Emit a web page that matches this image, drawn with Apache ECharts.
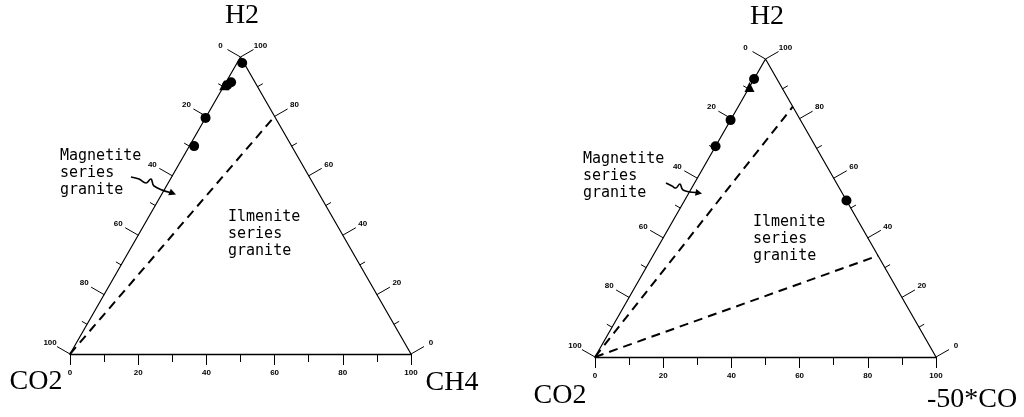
<!DOCTYPE html>
<html><head><meta charset="utf-8">
<script src="https://cdn.jsdelivr.net/npm/echarts@6/dist/echarts.min.js"></script>
<style>html,body{margin:0;padding:0;background:#fff}#c{width:1024px;height:417px}</style>
</head><body><div id="c"></div>
<script>
// ---- tick values (percent along each side) ----
const majorTicks = [0, 20, 40, 60, 80, 100];
const minorTicks = [10, 30, 50, 70, 90];

// ---- left diagram: H2 (top) - CO2 (left) - CH4 (right), percentages ----
const leftDotH2  = [98, 91.5, 90.5, 79.5, 70.0];
const leftDotCH4 = [1.5, 1.5, 0.8, 0, 1.4];
const leftTriH2  = [90.5];
const leftTriCH4 = [0];
const leftDividerH2  = [0, 80];
const leftDividerCH4 = [0, 20];

// ---- right diagram: H2 (top) - CO2 (left) - 50*CO (right) ----
const rightDotH2 = [93.3, 79.5, 70.7, 52.5];
const rightDotCO = [0, 0, 0, 47.5];
const rightTriH2 = [90.6];
const rightTriCO = [0];
const rightDivider1H2 = [0, 84];
const rightDivider1CO = [0, 16];
const rightDivider2H2 = [0, 34];
const rightDivider2CO = [0, 66];

// vertices as [top %, right %]
const vertexH2    = [0, 100, 0];
const vertexThird = [0, 0, 100];

// ternary -> cartesian (x: 0..100 base, y: top-component %)
function toXY(h2, third) { return [third + h2 / 2, h2]; }
function pts(hArr, tArr) { return hArr.map((h, i) => toXY(h, tArr[i])); }

const FONT_T = 'Liberation Serif';
const FONT_A = 'DejaVu Sans Mono';
const FONT_N = 'Liberation Sans';

function sideRenderer(params, api) {
  const side = api.value(0), v = api.value(1);
  let p, a, b;
  if (side === 0) { // left side: CO2 %, 0 at apex
    p = api.coord(toXY(100 - v, 0));
    a = api.coord(toXY(0, 0)); b = api.coord(toXY(100, 0));
  } else {          // right side: H2 %, 100 at apex
    p = api.coord(toXY(v, 100 - v));
    a = api.coord(toXY(0, 100)); b = api.coord(toXY(100, 0));
  }
  let dx = b[0] - a[0], dy = b[1] - a[1];
  const L = Math.hypot(dx, dy); dx /= L; dy /= L;
  const n = side === 0 ? [dy, -dx] : [-dy, dx];
  const major = majorTicks.indexOf(v) >= 0;
  const len = major ? 15 : 6;
  const children = [{
    type: 'line',
    shape: { x1: p[0], y1: p[1], x2: p[0] + n[0] * len, y2: p[1] + n[1] * len },
    style: { stroke: '#000', lineWidth: 1 }
  }];
  if (major) {
    children.push({
      type: 'text', x: p[0] + n[0] * 23, y: p[1] + n[1] * 23,
      style: { text: String(v), fontSize: 8, fontWeight: 'bold', fontFamily: FONT_N,
               fill: '#000', align: 'center', verticalAlign: 'middle' }
    });
  }
  return { type: 'group', children };
}

const sideData = [];
[0, 1].forEach(s => majorTicks.concat(minorTicks).forEach(v => sideData.push([s, v])));

function xAxisDef(idx) {
  return {
    gridIndex: idx, type: 'value', min: 0, max: 100, interval: 20, position: 'bottom',
    axisLine: { show: true, onZero: false, lineStyle: { color: '#000', width: 1.3 } },
    axisTick: { show: true, length: 11, inside: false, lineStyle: { color: '#000', width: 1 } },
    minorTick: { show: true, splitNumber: 2, length: 8, lineStyle: { color: '#000', width: 1 } },
    splitLine: { show: false }, minorSplitLine: { show: false },
    axisLabel: { show: true, margin: 15, fontSize: 8, fontWeight: 'bold', fontFamily: FONT_N,
                 color: '#000', showMinLabel: true, showMaxLabel: true }
  };
}
function yAxisDef(idx) {
  return { gridIndex: idx, type: 'value', min: 0, max: 100, show: false };
}

function seriesFor(idx, dotH, dotT, triH, triT, dividers) {
  const s = [
    { type: 'line', xAxisIndex: idx, yAxisIndex: idx, data: pts(vertexH2, vertexThird),
      symbol: 'none', lineStyle: { color: '#000', width: 1.2 }, z: 2, silent: true },
    { type: 'custom', xAxisIndex: idx, yAxisIndex: idx, coordinateSystem: 'cartesian2d',
      data: sideData, renderItem: sideRenderer, z: 3, silent: true }
  ];
  dividers.forEach(d => s.push({
    type: 'line', xAxisIndex: idx, yAxisIndex: idx, data: pts(d[0], d[1]), symbol: 'none',
    lineStyle: { color: '#000', width: 2, type: [9, 6] }, z: 2, silent: true
  }));
  s.push({ type: 'scatter', xAxisIndex: idx, yAxisIndex: idx, data: pts(dotH, dotT),
           symbol: 'circle', symbolSize: 10, itemStyle: { color: '#000', opacity: 1 }, z: 5 });
  s.push({ type: 'scatter', xAxisIndex: idx, yAxisIndex: idx, data: pts(triH, triT),
           symbol: 'triangle', symbolSize: 10, itemStyle: { color: '#000', opacity: 1 }, z: 5 });
  return s;
}

function title(text, x, y) {
  return { type: 'text', x, y, style: { text, fontFamily: FONT_T, fontSize: 28, fill: '#000',
           align: 'center', verticalAlign: 'middle' } };
}
function note(text, x, y) {
  return { type: 'text', x, y, style: { text, fontFamily: FONT_A, fontSize: 15, lineHeight: 17,
           fill: '#000', align: 'left', verticalAlign: 'top' } };
}
function arrow(points, head) {
  return [
    { type: 'polyline', shape: { points, smooth: 0.4 }, style: { stroke: '#000', lineWidth: 1.6, fill: null } },
    { type: 'polygon', shape: { points: head }, style: { fill: '#000' } }
  ];
}

const chart = echarts.init(document.getElementById('c'));
chart.setOption({
  animation: false,
  backgroundColor: '#fff',
  grid: [
    { left: 70, top: 57, width: 341, height: 297 },
    { left: 595, top: 59, width: 341, height: 298 }
  ],
  xAxis: [xAxisDef(0), xAxisDef(1)],
  yAxis: [yAxisDef(0), yAxisDef(1)],
  series: [].concat(
    seriesFor(0, leftDotH2, leftDotCH4, leftTriH2, leftTriCH4,
              [[leftDividerH2, leftDividerCH4]]),
    seriesFor(1, rightDotH2, rightDotCO, rightTriH2, rightTriCO,
              [[rightDivider1H2, rightDivider1CO], [rightDivider2H2, rightDivider2CO]])
  ),
  graphic: { elements: [].concat(
    [title('H2', 242, 16), title('CO2', 36, 382), title('CH4', 452, 383),
     title('H2', 767, 17), title('CO2', 560, 396), title('-50*CO', 972, 400),
     note('Magnetite\nseries\ngranite', 60, 148),
     note('Ilmenite\nseries\ngranite', 228, 209),
     note('Magnetite\nseries\ngranite', 583, 151),
     note('Ilmenite\nseries\ngranite', 753, 214)],
    arrow([[131, 177], [139, 179], [146, 183], [151, 179], [154, 186], [170, 192.5]],
          [[176, 194.5], [168.2, 195.3], [170.8, 188.7]]),
    arrow([[666, 183], [672, 186], [676, 188], [680, 184], [683, 190], [696, 192.5]],
          [[702, 193.5], [695, 195.7], [696.2, 188.9]])
  ) }
});
</script>
</body></html>
